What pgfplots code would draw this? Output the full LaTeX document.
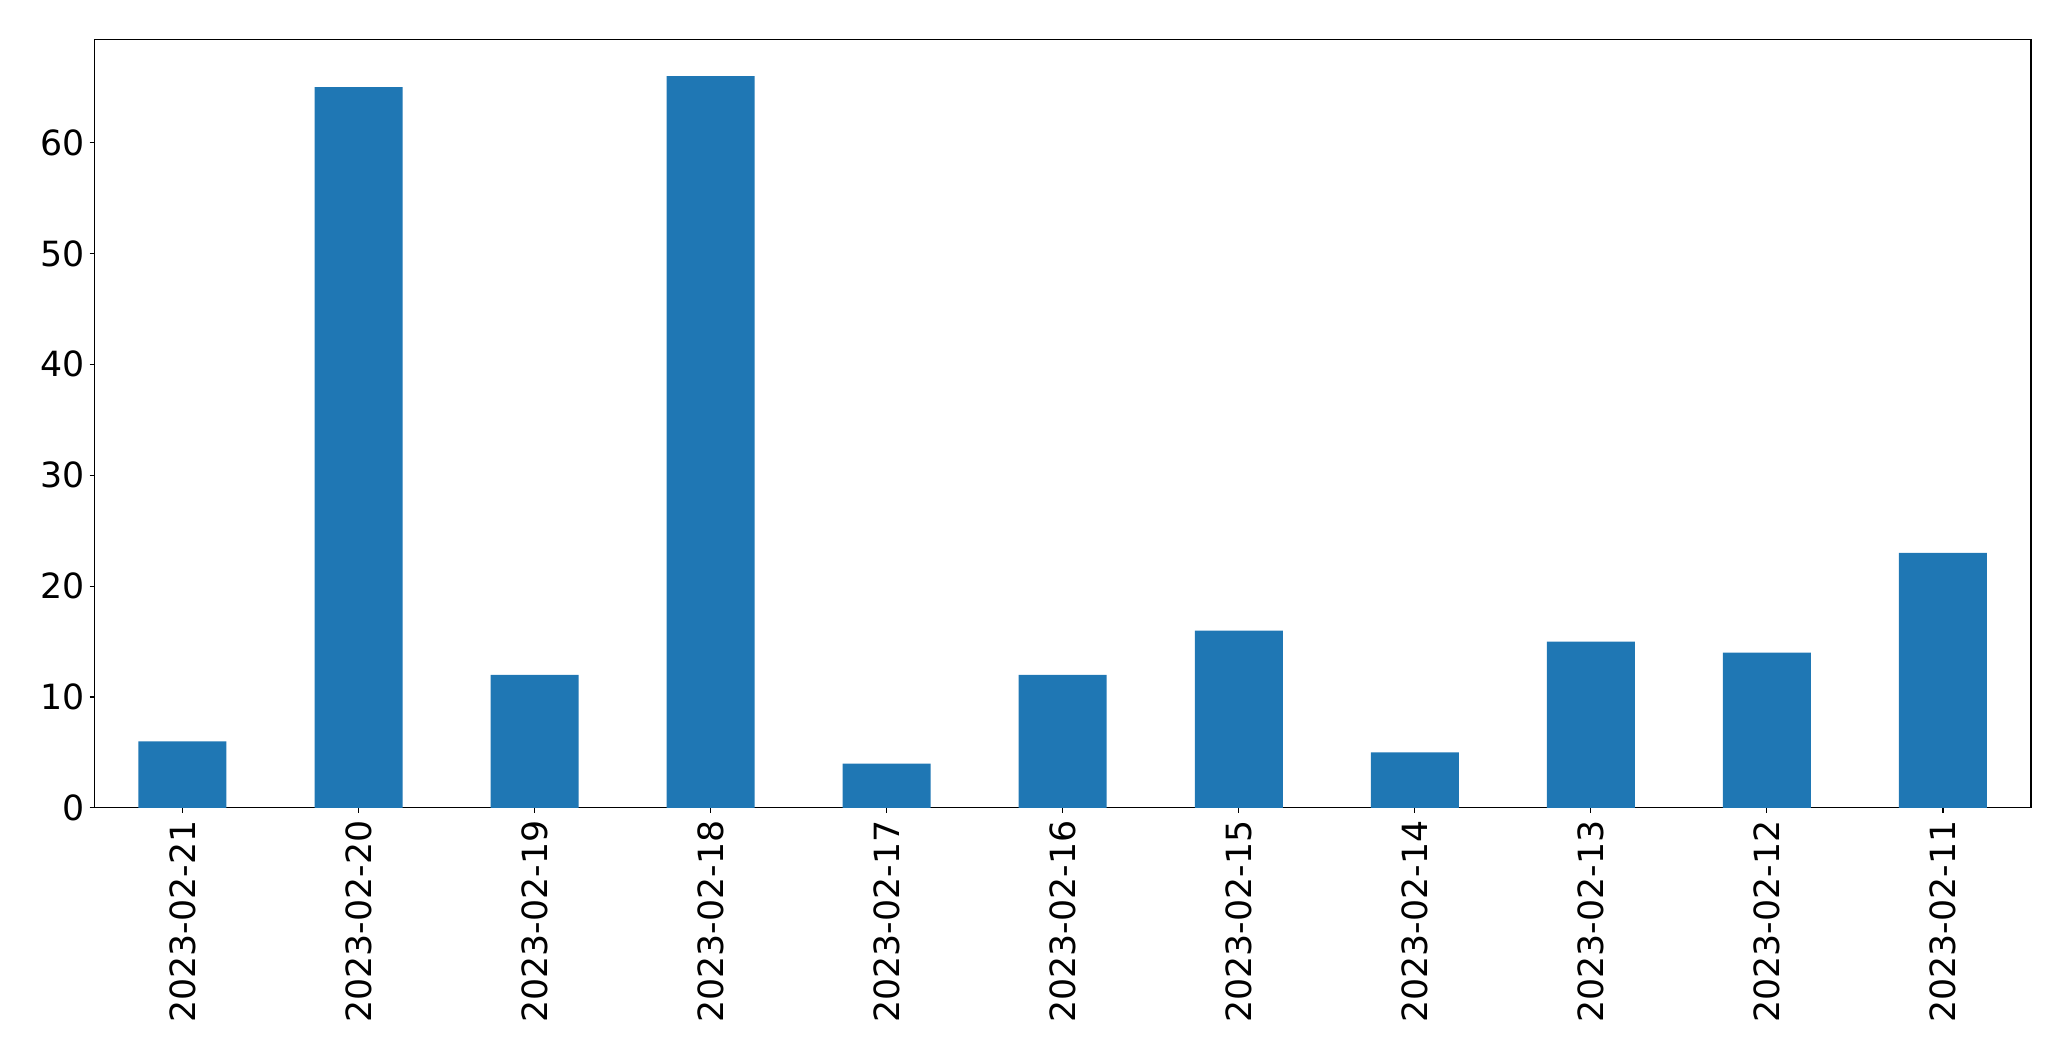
\documentclass[border=0pt]{standalone}
\usepackage{fontspec}
\setmainfont{DejaVu Sans}
\usepackage{pgfplots}
\pgfplotsset{compat=1.18}
\definecolor{mplblue}{HTML}{1F77B4}
\begin{document}
\begin{tikzpicture}
\path[use as bounding box] (0,0) rectangle (1491.1pt,763.9pt);
\begin{axis}[
  at={(68.0pt,182.2pt)}, anchor=south west,
  scale only axis, width=1394.3pt, height=553.3pt,
  xmin=-0.5, xmax=10.5, ymin=0, ymax=69.3,
  xtick={0,...,10},
  xticklabels={2023-02-21,2023-02-20,2023-02-19,2023-02-18,2023-02-17,2023-02-16,2023-02-15,2023-02-14,2023-02-13,2023-02-12,2023-02-11},
  ytick={0,10,20,30,40,50,60},
  tick align=outside, tick pos=left,
  major tick length=3.5pt,
  every tick/.style={black, line width=0.8pt},
  axis line style={line width=0.8pt},
  /pgf/number format/assume math mode=true,
  tick label style={font=\fontsize{25}{30}\selectfont},
  xticklabel style={rotate=90, anchor=east, inner sep=0pt},
  yticklabel style={anchor=east, inner sep=0pt},
  xticklabel shift=5.5pt,
  yticklabel shift=3.5pt,
  ybar, bar width=0.5,
]
\addplot[fill=mplblue, draw=none] coordinates {
(0,6) (1,65) (2,12) (3,66) (4,4) (5,12) (6,16) (7,5) (8,15) (9,14) (10,23)
};
\end{axis}
\end{tikzpicture}
\end{document}
